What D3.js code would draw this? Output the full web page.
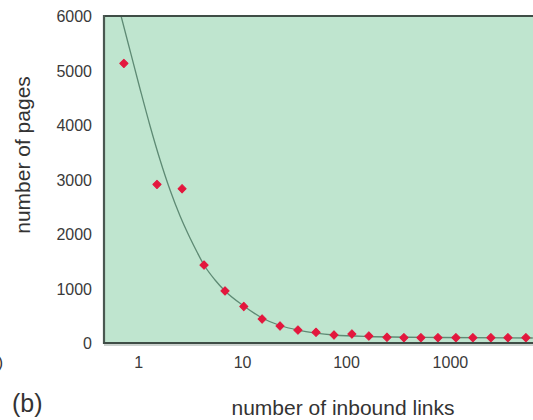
<!DOCTYPE html>
<html>
<head>
<meta charset="utf-8">
<script src="https://cdn.jsdelivr.net/npm/d3@7/dist/d3.min.js"></script>
<style>
  html, body { margin: 0; padding: 0; background: #ffffff; }
  svg { display: block; font-family: "Liberation Sans", Arial, Helvetica, sans-serif; }
</style>
</head>
<body>
<svg id="chart" width="533" height="420"></svg>
<script>
// ---- data ----
const linksX = [0.73, 1.52, 2.65, 4.31, 6.86, 10.4, 15.6, 23.2, 34.5, 51.5, 76.7, 114, 166, 248, 361, 526, 767, 1142, 1663, 2478, 3614, 5383];
const pagesY = [5130, 2910, 2830, 1430, 955, 670, 440, 312, 238, 196, 147, 165, 128, 105, 98, 97, 97, 97, 97, 97, 97, 97];

// fitted curve
const fitX = [0.686, 0.801, 1.045, 1.304, 1.628, 2.03, 2.535, 3.16, 3.69, 4.31, 5.50, 6.86, 10.4, 15.6, 23.2, 34.5, 51.5, 76.7, 166, 801, 6271];
const fitY = [6000, 5505, 4661, 3982, 3358, 2807, 2330, 1927, 1670, 1431, 1156, 954, 679, 459, 321, 238, 183, 147, 119, 101, 92];

const xTicks = [1, 10, 100, 1000];
const yTicks = [0, 1000, 2000, 3000, 4000, 5000, 6000];

const xTitle = "number of inbound links";
const yTitle = "number of pages";
const panelLabel = "(b)";

// ---- layout ----
const svg = d3.select("#chart");
const mLeft = 104, mRight = 533, mTop = 16, mBottom = 343;

const x = d3.scaleLog().domain([0.47, 6300]).range([mLeft, mRight]);
const y = d3.scaleLinear().domain([0, 6000]).range([mBottom, mTop]);

// plot background
svg.append("rect")
  .attr("x", mLeft).attr("y", mTop)
  .attr("width", mRight - mLeft).attr("height", mBottom - mTop)
  .attr("fill", "#bfe5cf");

svg.append("defs").append("clipPath").attr("id", "plotclip")
  .append("rect").attr("x", mLeft).attr("y", mTop)
  .attr("width", mRight - mLeft).attr("height", mBottom - mTop);

// fitted curve
const line = d3.line()
  .x((d, i) => x(fitX[i]))
  .y((d, i) => y(fitY[i]))
  .curve(d3.curveMonotoneX);

svg.append("path")
  .datum(fitX)
  .attr("d", line)
  .attr("fill", "none")
  .attr("stroke", "#5e8a74")
  .attr("stroke-width", 1.3)
  .attr("clip-path", "url(#plotclip)");

// points
const sym = d3.symbol().type(d3.symbolSquare).size(34);
svg.append("g")
  .selectAll("path")
  .data(linksX)
  .join("path")
  .attr("d", sym)
  .attr("transform", (d, i) => `translate(${x(d)},${y(pagesY[i])}) rotate(45)`)
  .attr("fill", "#e3173d")
  .attr("stroke", "#e3173d")
  .attr("stroke-width", 1)
  .attr("stroke-linejoin", "round");

// frame
svg.append("line").attr("x1", mLeft).attr("x2", mRight).attr("y1", mTop).attr("y2", mTop)
  .attr("stroke", "#3f4d46").attr("stroke-width", 2);
svg.append("line").attr("x1", mLeft).attr("x2", mLeft).attr("y1", mTop - 1).attr("y2", mBottom + 1)
  .attr("stroke", "#4a5851").attr("stroke-width", 2.2);
svg.append("line").attr("x1", mLeft - 1).attr("x2", mRight).attr("y1", mBottom).attr("y2", mBottom)
  .attr("stroke", "#3f4d46").attr("stroke-width", 2);
svg.append("line").attr("x1", mLeft).attr("x2", mRight).attr("y1", mBottom + 2).attr("y2", mBottom + 2)
  .attr("stroke", "#9aa59f").attr("stroke-width", 1);

// x axis labels (axis generator, ticks hidden)
const xAxis = d3.axisBottom(x).tickValues(xTicks).tickFormat(d3.format("d")).tickSize(0).tickPadding(0);
const gx = svg.append("g").attr("transform", `translate(0,${mBottom})`).call(xAxis);
gx.select(".domain").remove();
gx.selectAll("text")
  .attr("y", 25).attr("dy", 0)
  .attr("font-size", 16).attr("fill", "#3a3a3a")
  .attr("font-family", '"Liberation Sans", Arial, sans-serif');

// y axis labels
const yAxis = d3.axisLeft(y).tickValues(yTicks).tickFormat(d3.format("d")).tickSize(0).tickPadding(0);
const gy = svg.append("g").attr("transform", `translate(92,0)`).call(yAxis);
gy.select(".domain").remove();
gy.selectAll("text")
  .attr("x", 0).attr("dy", "0.36em")
  .attr("font-size", 16).attr("fill", "#3a3a3a")
  .attr("font-family", '"Liberation Sans", Arial, sans-serif');

// titles
svg.append("text")
  .attr("x", 343).attr("y", 415)
  .attr("text-anchor", "middle")
  .attr("font-size", 21).attr("fill", "#333")
  .text(xTitle);

svg.append("text")
  .attr("transform", "translate(29.5,155) rotate(-90)")
  .attr("text-anchor", "middle")
  .attr("font-size", 21).attr("fill", "#333")
  .text(yTitle);

svg.append("text")
  .attr("x", 12).attr("y", 412)
  .attr("font-size", 25).attr("fill", "#333")
  .text(panelLabel);

// cut-off label fragment at the left edge
svg.append("text")
  .attr("x", 3).attr("y", 368)
  .attr("text-anchor", "end")
  .attr("font-size", 16).attr("fill", "#333")
  .text(")");
</script>
</body>
</html>
